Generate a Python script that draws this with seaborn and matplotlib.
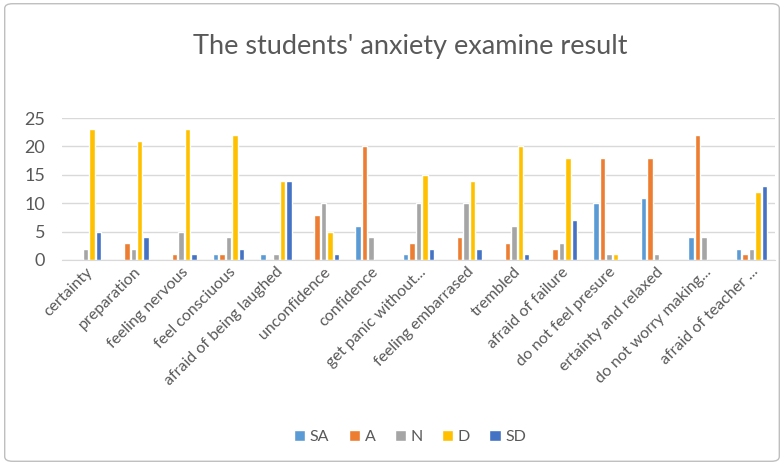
import matplotlib
matplotlib.use("Agg")
import matplotlib.pyplot as plt
from matplotlib.patches import FancyBboxPatch
import pandas as pd
import seaborn as sns

categories = [
    "certainty", "preparation", "feeling nervous", "feel consciuous",
    "afraid of being laughed", "unconfidence", "confidence",
    "get panic without...", "feeling embarrased", "trembled",
    "afraid of failure", "do not feel presure", "ertainty and relaxed",
    "do not worry making...", "afraid of teacher ...",
]
sa = [0, 0, 0, 1, 1, 0, 6, 1, 0, 0, 0, 10, 11, 4, 2]
a = [0, 3, 1, 1, 0, 8, 20, 3, 4, 3, 2, 18, 18, 22, 1]
n = [2, 2, 5, 4, 1, 10, 4, 10, 10, 6, 3, 1, 1, 4, 2]
d = [23, 21, 23, 22, 14, 5, 0, 15, 14, 20, 18, 1, 0, 0, 12]
sd = [5, 4, 1, 2, 14, 1, 0, 2, 2, 1, 7, 0, 0, 0, 13]

series = {"SA": sa, "A": a, "N": n, "D": d, "SD": sd}
palette = {"SA": "#5B9BD5", "A": "#ED7D31", "N": "#A5A5A5", "D": "#FFC000", "SD": "#4472C4"}

rows = []
for name, values in series.items():
    for cat, val in zip(categories, values):
        rows.append({"item": cat, "answer": name, "count": val})
df = pd.DataFrame(rows)

sns.set_style("white")
plt.rcParams["font.family"] = ["Lato", "DejaVu Sans"]
text_color = "#595959"

fig = plt.figure(figsize=(7.84, 4.65), dpi=100)
ax = fig.add_axes([0.079, 0.441, 0.910, 0.305])

sns.barplot(data=df, x="item", y="count", hue="answer", palette=palette,
            order=categories, hue_order=list(series), width=0.68, gap=0.15,
            saturation=1, ax=ax, legend=True)

ax.set_ylim(0, 25)
ax.set_yticks([0, 5, 10, 15, 20, 25])
ax.set_xlim(-0.5, len(categories) - 0.5)
ax.grid(axis="y", color="#D9D9D9", linewidth=1)
ax.set_axisbelow(True)
for side in ["left", "right", "top"]:
    ax.spines[side].set_visible(False)
ax.spines["bottom"].set_color("#D9D9D9")
ax.tick_params(axis="both", length=0, colors=text_color)
ax.tick_params(axis="x", labelsize=11.5)
ax.tick_params(axis="y", labelsize=13, pad=12)
ax.set_xticks(range(len(categories)))
ax.set_xticklabels(categories, rotation=45, ha="right", rotation_mode="anchor")
ax.set_xlabel("")
ax.set_ylabel("")

handles, labels = ax.get_legend_handles_labels()
ax.legend_.remove()
fig.legend(handles, labels, loc="center", bbox_to_anchor=(0.523, 0.06), ncol=5,
           frameon=False, fontsize=11.5, labelcolor=text_color, handlelength=0.7,
           handleheight=0.7, handletextpad=0.3, columnspacing=1.2)

fig.text(0.523, 0.9, "The students' anxiety examine result", ha="center", va="center",
         fontsize=19.5, color=text_color)

border = FancyBboxPatch((0.006, 0.008), 0.988, 0.984, boxstyle="round,pad=0,rounding_size=0.01",
                        transform=fig.transFigure, fill=False, edgecolor="#BFBFBF", linewidth=1)
fig.patches.append(border)

fig.savefig("out.png", dpi=100)
